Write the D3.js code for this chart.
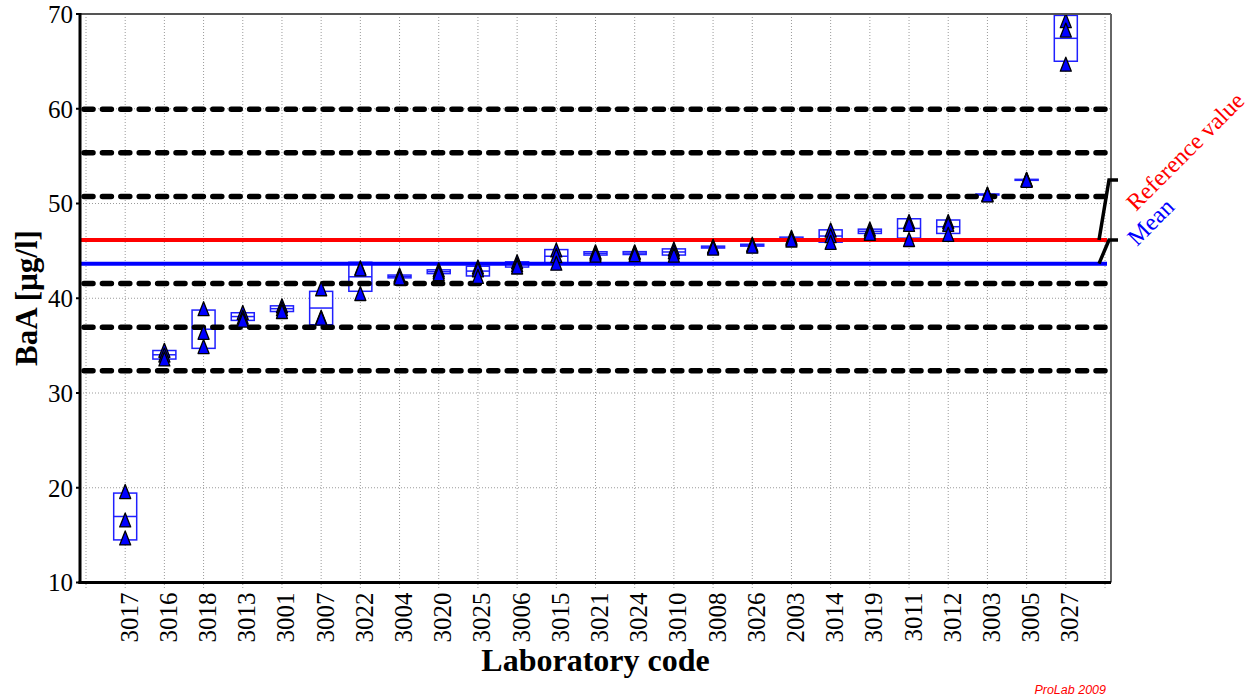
<!DOCTYPE html>
<html>
<head>
<meta charset="utf-8">
<script src="https://cdnjs.cloudflare.com/ajax/libs/d3/7.8.5/d3.min.js"></script>
<style>
  body { margin: 0; background: #fff; }
  svg { display: block; }
</style>
</head>
<body>
<div id="chart"></div>
<script>
// lab codes in plotted order
var labCodes = ["3017", "3016", "3018", "3013", "3001", "3007", "3022", "3004", "3020", "3025",
  "3006", "3015", "3021", "3024", "3010", "3008", "3026", "2003", "3014", "3019",
  "3011", "3012", "3003", "3005", "3027"];

// three replicate results per lab (µg/l)
var run1 = [19.6, 34.5, 38.9, 38.5, 39.2, 41.0, 43.2, 42.45, 43.0, 43.3,
  43.85, 45.1, 44.9, 44.9, 45.2, 45.5, 45.7, 46.45, 47.2, 47.3,
  48.1, 48.1, 51.0, 52.55, 69.3];
var run2 = [16.6, 34.0, 36.4, 38.0, 38.9, 38.0, 43.1, 42.3, 42.8, 43.0,
  43.55, 44.5, 44.75, 44.8, 44.9, 45.4, 45.6, 46.3, 46.6, 47.05,
  47.8, 47.8, 50.95, 52.5, 68.3];
var run3 = [14.7, 33.6, 34.9, 37.7, 38.6, 37.9, 40.5, 42.15, 42.6, 42.3,
  43.3, 43.7, 44.55, 44.6, 44.55, 45.3, 45.5, 46.15, 45.9, 46.85,
  46.2, 46.75, 50.9, 52.45, 64.7];

var referenceValue = 46.15;
var meanValue = 43.65;
var limitLines = [32.35, 36.95, 41.55, 50.75, 55.35, 59.95];
var yTicks = [10, 20, 30, 40, 50, 60, 70];

var svgWidth = 1257;
var svgHeight = 699;

var plot = { left: 80, right: 1111, top: 14, bottom: 582.5 };

var svg = d3.select("#chart")
  .append("svg")
  .attr("width", svgWidth)
  .attr("height", svgHeight);

svg.append("rect")
  .attr("width", svgWidth)
  .attr("height", svgHeight)
  .attr("fill", "#fff");

// x positions: 0 and 26 are empty slots at both ends
var xScale = d3.scaleLinear()
  .domain([0, labCodes.length + 1])
  .range([86, 1105]);

var yScale = d3.scaleLinear()
  .domain([10, 70])
  .range([plot.bottom, plot.top]);

var data = labCodes.map(function(code, i) {
  var vals = [run1[i], run2[i], run3[i]];
  return {
    code: code,
    pos: i + 1,
    vals: vals,
    mean: d3.mean(vals),
    sd: d3.deviation(vals)
  };
});

var serif = "'Liberation Serif', 'Times New Roman', serif";

// dotted grid
svg.append("g")
  .selectAll("line")
  .data(d3.range(0, labCodes.length + 2))
  .enter()
  .append("line")
  .attr("x1", d => xScale(d))
  .attr("x2", d => xScale(d))
  .attr("y1", plot.top)
  .attr("y2", plot.bottom + 6)
  .attr("stroke", "#9a9a9a")
  .attr("stroke-width", 1)
  .attr("stroke-dasharray", "1,2");

svg.append("g")
  .selectAll("line")
  .data(yTicks.slice(1, -1))
  .enter()
  .append("line")
  .attr("x1", plot.left)
  .attr("x2", plot.right)
  .attr("y1", d => yScale(d))
  .attr("y2", d => yScale(d))
  .attr("stroke", "#9a9a9a")
  .attr("stroke-width", 1)
  .attr("stroke-dasharray", "1,2");

// boxes: mean +/- sd
var boxW = 23;
var boxes = svg.append("g")
  .selectAll("g")
  .data(data)
  .enter()
  .append("g");

boxes.append("rect")
  .attr("x", d => xScale(d.pos) - boxW / 2)
  .attr("y", d => yScale(d.mean + d.sd))
  .attr("width", boxW)
  .attr("height", d => Math.max(1, yScale(d.mean - d.sd) - yScale(d.mean + d.sd)))
  .attr("fill", "#fff")
  .attr("stroke", "#2020ff")
  .attr("stroke-width", 1.5);

boxes.append("line")
  .attr("x1", d => xScale(d.pos) - boxW / 2)
  .attr("x2", d => xScale(d.pos) + boxW / 2)
  .attr("y1", d => yScale(d.mean))
  .attr("y2", d => yScale(d.mean))
  .attr("stroke", "#2020ff")
  .attr("stroke-width", 1.5);

// limit lines, reference and mean
var lineEnd = 1107;
svg.append("g")
  .selectAll("line")
  .data(limitLines)
  .enter()
  .append("line")
  .attr("x1", plot.left + 4)
  .attr("x2", lineEnd)
  .attr("y1", d => yScale(d))
  .attr("y2", d => yScale(d))
  .attr("stroke", "#000")
  .attr("stroke-width", 5.5)
  .attr("stroke-linecap", "round")
  .attr("stroke-dasharray", "9,9.4");

svg.append("line")
  .attr("x1", plot.left)
  .attr("x2", lineEnd)
  .attr("y1", yScale(referenceValue))
  .attr("y2", yScale(referenceValue))
  .attr("stroke", "#ff0000")
  .attr("stroke-width", 4);

svg.append("line")
  .attr("x1", plot.left)
  .attr("x2", lineEnd)
  .attr("y1", yScale(meanValue))
  .attr("y2", yScale(meanValue))
  .attr("stroke", "#0000ff")
  .attr("stroke-width", 4);

// replicate markers
var triW = 11, triH = 14;
var points = [];
data.forEach(function(d) {
  d.vals.forEach(function(v) { points.push({ pos: d.pos, v: v }); });
});

svg.append("g")
  .selectAll("path")
  .data(points)
  .enter()
  .append("path")
  .attr("transform", d => `translate(${xScale(d.pos)},${yScale(d.v)})`)
  .attr("d", `M0,${-triH / 2}L${triW / 2},${triH / 2}L${-triW / 2},${triH / 2}Z`)
  .attr("fill", "#0000ff")
  .attr("stroke", "#000")
  .attr("stroke-width", 1.3)
  .attr("stroke-linejoin", "round");

// frame
svg.append("line")
  .attr("x1", plot.left).attr("x2", plot.right)
  .attr("y1", plot.top).attr("y2", plot.top)
  .attr("stroke", "#555").attr("stroke-width", 2);
svg.append("line")
  .attr("x1", plot.right).attr("x2", plot.right)
  .attr("y1", plot.top).attr("y2", plot.bottom)
  .attr("stroke", "#666").attr("stroke-width", 2);
svg.append("line")
  .attr("x1", plot.left).attr("x2", plot.left)
  .attr("y1", plot.top - 1).attr("y2", plot.bottom + 1.5)
  .attr("stroke", "#000").attr("stroke-width", 3);
svg.append("line")
  .attr("x1", plot.left - 1.5).attr("x2", plot.right)
  .attr("y1", plot.bottom).attr("y2", plot.bottom)
  .attr("stroke", "#000").attr("stroke-width", 3);

// y ticks and labels
svg.append("g")
  .selectAll("line")
  .data(yTicks)
  .enter()
  .append("line")
  .attr("x1", plot.left - 4)
  .attr("x2", plot.left)
  .attr("y1", d => yScale(d))
  .attr("y2", d => yScale(d))
  .attr("stroke", "#000")
  .attr("stroke-width", 2);

svg.append("g")
  .selectAll("text")
  .data(yTicks)
  .enter()
  .append("text")
  .attr("x", plot.left - 7)
  .attr("y", d => yScale(d))
  .attr("dy", "0.35em")
  .attr("text-anchor", "end")
  .attr("font-family", serif)
  .attr("font-size", "25px")
  .attr("fill", "#000")
  .text(d => d);

// x labels, rotated
svg.append("g")
  .selectAll("text")
  .data(data)
  .enter()
  .append("text")
  .attr("transform", d => `translate(${xScale(d.pos)},${plot.bottom + 10}) rotate(-90)`)
  .attr("dy", "0.5em")
  .attr("text-anchor", "end")
  .attr("font-family", serif)
  .attr("font-size", "25px")
  .attr("fill", "#000")
  .text(d => d.code);

// axis titles
svg.append("text")
  .attr("x", (plot.left + plot.right) / 2)
  .attr("y", 671)
  .attr("text-anchor", "middle")
  .attr("font-family", serif)
  .attr("font-weight", "bold")
  .attr("font-size", "32px")
  .text("Laboratory code");

svg.append("text")
  .attr("transform", "translate(37,298) rotate(-90)")
  .attr("text-anchor", "middle")
  .attr("font-family", serif)
  .attr("font-weight", "bold")
  .attr("font-size", "31px")
  .text("BaA [µg/l]");

// bracket connectors to the right-hand labels
var yRef = yScale(referenceValue);
var yMean = yScale(meanValue);
var yRefLabel = yRef - 60;
var connector = d3.line();

svg.append("path")
  .attr("d", connector([[1099, yMean], [1109, yRef], [1118, yRef]]))
  .attr("fill", "none")
  .attr("stroke", "#000")
  .attr("stroke-width", 3.5);

svg.append("path")
  .attr("d", connector([[1099, yRef], [1109, yRefLabel], [1118, yRefLabel]]))
  .attr("fill", "none")
  .attr("stroke", "#000")
  .attr("stroke-width", 3.5);

svg.append("text")
  .attr("transform", `translate(1136,${yRefLabel + 32}) rotate(-45)`)
  .attr("font-family", serif)
  .attr("font-size", "24px")
  .attr("fill", "#ff0000")
  .text("Reference value");

svg.append("text")
  .attr("transform", `translate(1137,${yRef + 7}) rotate(-45)`)
  .attr("font-family", serif)
  .attr("font-size", "24px")
  .attr("fill", "#0000ff")
  .text("Mean");

// footer
svg.append("text")
  .attr("x", 1106)
  .attr("y", 694)
  .attr("text-anchor", "end")
  .attr("font-family", "'Liberation Sans', Arial, sans-serif")
  .attr("font-style", "italic")
  .attr("font-size", "12.5px")
  .attr("fill", "#ff0000")
  .text("ProLab 2009");
</script>
</body>
</html>
